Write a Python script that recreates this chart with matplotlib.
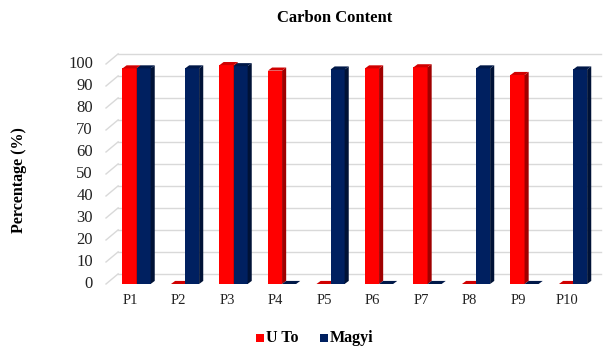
import numpy as np
import matplotlib.pyplot as plt
from matplotlib.patches import Polygon

plt.rcParams['font.family'] = ['Liberation Serif', 'DejaVu Serif']

# Data
samples = ['P1', 'P2', 'P3', 'P4', 'P5', 'P6', 'P7', 'P8', 'P9', 'P10']
u_to = [98, 0, 99.5, 97, 0, 98, 98.5, 0, 95, 0]
magyi = [98, 98, 99, 0, 97.5, 0, 0, 98, 0, 97.5]
yticks = [0, 10, 20, 30, 40, 50, 60, 70, 80, 90, 100]

W, H = 611, 349
fig = plt.figure(figsize=(W / 100, H / 100), dpi=100)
ax = fig.add_axes([106 / W, (H - 284) / H, (591 - 106) / W, (284 - 64) / H])
ax.set_xlim(0.5, 10.5)
ax.set_ylim(0, 100)
for s in ax.spines.values():
    s.set_visible(False)
ax.set_xticks([])
ax.set_yticks([])

# back wall offsets (data units)
wall_dx, wall_dy = 0.25, 4.6
grid_c = '#d9d9d9'
for v in yticks:
    ax.plot([0.5, 0.5 + wall_dx], [v, v + wall_dy], color=grid_c, lw=1, clip_on=False, zorder=1)
    ax.plot([0.5 + wall_dx, 10.7], [v + wall_dy, v + wall_dy], color=grid_c, lw=1, clip_on=False, zorder=1)
    ax.text(0.5 - 0.27, v, str(v), ha='right', va='center', fontsize=12, color='#222222')

for i, lab in enumerate(samples):
    ax.text(i + 1, -4.5, lab, ha='center', va='top', fontsize=10.5, color='#222222')


def bar3d(x0, w, h, face, side, top, z):
    dx, dy = 0.085, 1.4
    pts_top = [(x0, h), (x0 + w, h), (x0 + w + dx, h + dy), (x0 + dx, h + dy)]
    if h > 0:
        ax.add_patch(Polygon([(x0, 0), (x0 + w, 0), (x0 + w, h), (x0, h)],
                             closed=True, fc=face, ec='none', zorder=z, clip_on=False))
        ax.add_patch(Polygon([(x0 + w, 0), (x0 + w + dx, dy), (x0 + w + dx, h + dy), (x0 + w, h)],
                             closed=True, fc=side, ec='none', zorder=z, clip_on=False))
    ax.add_patch(Polygon(pts_top, closed=True, fc=top, ec='none', zorder=z, clip_on=False))


bw = 0.29
shift = 0.13
for i in range(len(samples)):
    c = i + 1 + shift
    bar3d(c - bw, bw, u_to[i], '#ff0000', '#a00000', '#d00000', 3)
    bar3d(c, bw, magyi[i], '#002060', '#001236', '#001848', 4)

fig.text(335 / W, 1 - 18 / H, 'Carbon Content', ha='center', va='center',
         fontsize=12, fontweight='bold')
fig.text(19 / W, 1 - 180 / H, 'Percentage (%)', ha='center', va='center',
         rotation=90, fontsize=11.5, fontweight='bold')

# legend
ly = 1 - 338 / H
fig.patches.append(plt.Rectangle((256 / W, ly - 4 / H), 8 / W, 8 / H, fc='#ff0000',
                                 transform=fig.transFigure, figure=fig))
fig.text(266 / W, ly, 'U To', ha='left', va='center', fontsize=11.5, fontweight='bold')
fig.patches.append(plt.Rectangle((320 / W, ly - 4 / H), 8 / W, 8 / H, fc='#002060',
                                 transform=fig.transFigure, figure=fig))
fig.text(330 / W, ly, 'Magyi', ha='left', va='center', fontsize=11.5, fontweight='bold')

fig.savefig('out.png', dpi=100)
